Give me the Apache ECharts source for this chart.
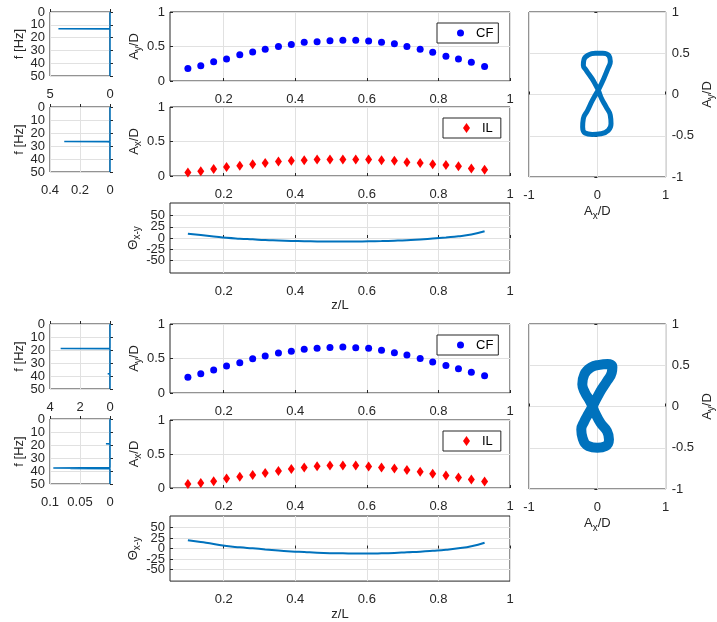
<!DOCTYPE html>
<html>
<head>
<meta charset="utf-8">
<script src="https://cdn.jsdelivr.net/npm/echarts@6/dist/echarts.min.js"></script>
<style>
  html, body { margin: 0; padding: 0; background: #fff; }
  #chart { width: 717px; height: 622px; }
</style>
</head>
<body>
<div id="chart"></div>
<script>
// Span-wise positions of the measurement stations (z/L)
const zPos = [0.100, 0.136, 0.172, 0.208, 0.245, 0.281, 0.316, 0.353, 0.389, 0.425, 0.461, 0.497,
              0.533, 0.569, 0.605, 0.641, 0.677, 0.712, 0.749, 0.784, 0.821, 0.856, 0.892, 0.929];

// Case 1: cross-flow / in-line amplitudes and phase
const cfTop = [0.18, 0.22, 0.28, 0.32, 0.38, 0.42, 0.46, 0.50, 0.53, 0.56, 0.57, 0.585,
               0.59, 0.59, 0.58, 0.56, 0.54, 0.50, 0.46, 0.415, 0.36, 0.32, 0.27, 0.21];
const ilTop = [0.05, 0.07, 0.10, 0.13, 0.15, 0.17, 0.19, 0.21, 0.22, 0.23, 0.24, 0.24,
               0.24, 0.24, 0.24, 0.23, 0.22, 0.20, 0.19, 0.17, 0.16, 0.14, 0.11, 0.09];
const thetaTop = [9.6, 6.5, 3.5, 0.5, -1.5, -3, -4.5, -5.5, -6.5, -7.2, -7.7, -8,
                  -8, -7.8, -7.4, -6.8, -6, -5, -3.5, -1.2, 1.2, 3.8, 8, 15];

// Case 2
const cfBot = [0.23, 0.28, 0.335, 0.39, 0.44, 0.495, 0.535, 0.58, 0.605, 0.635, 0.65, 0.66,
               0.665, 0.655, 0.65, 0.62, 0.585, 0.55, 0.50, 0.45, 0.40, 0.35, 0.30, 0.25];
const ilBot = [0.06, 0.075, 0.10, 0.14, 0.165, 0.19, 0.22, 0.25, 0.28, 0.30, 0.32, 0.33,
               0.33, 0.33, 0.315, 0.30, 0.285, 0.265, 0.24, 0.21, 0.185, 0.155, 0.125, 0.095];
const thetaBot = [20, 15.5, 11, 6, 3, 0.5, -2, -4.5, -7, -8.5, -10, -11,
                  -11.5, -12, -12, -11.5, -10.5, -9, -7.5, -5.5, -3, 0.5, 5.5, 14];

// Amplitude spectra (frequency in Hz, amplitude)
const specCfTopF = [0, 12.9, 13.1, 13.3, 26.3, 26.5, 26.7, 50];
const specCfTopA = [0, 0, 4.3, 0, 0, 0.14, 0, 0];
const specIlTopF = [0, 26.4, 26.6, 26.8, 26.9, 50];
const specIlTopA = [0, 0, 0.305, 0.02, 0, 0];
const specCfBotF = [0, 18.7, 18.9, 19.1, 38.0, 38.2, 38.4, 50];
const specCfBotA = [0, 0, 3.29, 0, 0, 0.15, 0, 0];
const specIlBotF = [0, 18.8, 19.0, 19.2, 37.4, 37.6, 37.8, 38.0, 38.2, 50];
const specIlBotA = [0, 0, 0.0067, 0, 0, 0.0945, 0.03, 0.066, 0, 0];

// Orbit (A_x/D, A_y/D) at the monitored station
const orbitTopX = [0.014, 0.095, 0.156, 0.19, 0.17, 0.08, -0.03, -0.13, -0.195, -0.205, -0.16, -0.08, -0.024,
                   0.014, 0.061, 0.128, 0.189, 0.2, 0.16, 0.05, -0.075, -0.18, -0.215, -0.205, -0.142, -0.071, 0.014];
const orbitTopY = [0.053, 0.195, 0.317, 0.4, 0.47, 0.5, 0.5, 0.48, 0.425, 0.355, 0.29, 0.195, 0.114,
                   0.053, -0.049, -0.15, -0.252, -0.354, -0.435, -0.476, -0.484, -0.467, -0.394, -0.293, -0.191, -0.069, 0.053];
const orbitBotX = [-0.07, 0.033, 0.142, 0.21, 0.22, 0.15, 0.03, -0.09, -0.19, -0.22, -0.18, -0.12,
                   -0.07, -0.033, 0.047, 0.142, 0.17, 0.12, 0.0, -0.13, -0.215, -0.235, -0.19, -0.128, -0.07];
const orbitBotY = [0.0, 0.167, 0.309, 0.41, 0.48, 0.515, 0.505, 0.475, 0.39, 0.27, 0.167, 0.085,
                   0.0, -0.077, -0.2, -0.3, -0.4, -0.48, -0.5, -0.48, -0.385, -0.28, -0.179, -0.085, 0.0];

// Tick values
const zTicks = [0.2, 0.4, 0.6, 0.8, 1];
const thetaTicks = [-50, -25, 0, 25, 50];
const freqTicks = [0, 10, 20, 30, 40, 50];

const INK = '#262626';
const GRIDLINE = '#e1e1e1';
const FONT = 'Liberation Sans';
const LINE_BLUE = '#0072BD';

const tickText = { color: INK, fontFamily: FONT, fontSize: 13 };
const subRich = {
  sub: { color: INK, fontFamily: FONT, fontSize: 10, lineHeight: 10, padding: [8, 0, 0, 0] }
};

// Legend markers: circle and a tall diamond
const ICON_CIRCLE = 'circle';
const ICON_DIAMOND = 'path://M5,0L10,7L5,14L0,7Z';

const grids = [], xAxes = [], yAxes = [], series = [], legends = [];

function addGrid(left, top, width, height) {
  grids.push({ left, top, width, height, show: true, borderColor: INK, borderWidth: 1,
               backgroundColor: 'transparent', containLabel: false });
  return grids.length - 1;
}

function baseAxis(gi, isX) {
  return {
    gridIndex: gi, type: 'value',
    axisLine: { show: false },
    axisTick: { show: true, inside: true, length: 3, lineStyle: { color: INK } },
    axisLabel: Object.assign({ margin: isX ? 12 : 5, showMinLabel: true, showMaxLabel: true }, tickText),
    splitLine: { show: true, lineStyle: { color: GRIDLINE, width: 1 } }
  };
}

// Tightly stacked tick labels are split across two coincident y axes
// (alternate values on each), so that none of them gets dropped.
function splitLabels(ya, values) {
  const even = values.filter((v, i) => i % 2 === 0);
  const odd = values.filter((v, i) => i % 2 === 1);
  ya.axisLabel.customValues = even;
  const twin = {
    gridIndex: ya.gridIndex, type: 'value', min: ya.min, max: ya.max, inverse: !!ya.inverse,
    position: ya.position || 'left',
    axisLine: { show: false }, axisTick: { show: false }, splitLine: { show: false },
    axisLabel: Object.assign({ margin: ya.axisLabel.margin, showMinLabel: true, showMaxLabel: true,
                               customValues: odd }, tickText)
  };
  yAxes.push(ya);
  yAxes.push(twin);
}

function nameStyle() {
  return { color: INK, fontFamily: FONT, fontSize: 13, lineHeight: 14, rich: subRich };
}

// Spectrum panel: amplitude on a reversed x axis, frequency down the y axis
function spectrumPanel(top, height, fArr, aArr, maxA, step) {
  const gi = addGrid(50, top, 60, height);
  const xa = baseAxis(gi, true);
  Object.assign(xa, { min: 0, max: maxA, interval: step, inverse: true });
  xAxes.push(xa);
  const ya = baseAxis(gi, false);
  Object.assign(ya, { min: 0, max: 50, interval: 10, inverse: true,
    name: 'f [Hz]', nameLocation: 'middle', nameGap: 24, nameTextStyle: nameStyle() });
  const yIndex = yAxes.length;
  splitLabels(ya, freqTicks);
  series.push({
    type: 'line', xAxisIndex: xAxes.length - 1, yAxisIndex: yIndex,
    data: fArr.map((f, i) => [aArr[i], f]),
    symbol: 'none', clip: false,
    lineStyle: { color: LINE_BLUE, width: 1.5 }
  });
}

function zAxis(gi, withName) {
  const xa = baseAxis(gi, true);
  Object.assign(xa, { min: 0.05, max: 1 });
  xa.axisLabel.customValues = zTicks;
  xa.axisTick.customValues = zTicks;
  if (withName) {
    Object.assign(xa, { name: 'z/L', nameLocation: 'middle', nameGap: 24, nameTextStyle: nameStyle() });
  }
  return xa;
}

function ampPanel(top, height, values, yName, seriesName, color, symbol, size, legend) {
  const gi = addGrid(170, top, 340, height);
  xAxes.push(zAxis(gi, false));
  const ya = baseAxis(gi, false);
  Object.assign(ya, { min: 0, max: 1, interval: 0.5,
    name: yName, nameLocation: 'middle', nameGap: 28, nameTextStyle: nameStyle() });
  yAxes.push(ya);
  series.push({
    name: seriesName, type: 'scatter', xAxisIndex: xAxes.length - 1, yAxisIndex: yAxes.length - 1,
    data: zPos.map((z, i) => [z, values[i]]),
    symbol, symbolSize: size,
    itemStyle: { color, opacity: 1 }
  });
  legends.push({
    data: [{ name: seriesName, icon: legend.icon }],
    left: legend.left, top: legend.top,
    orient: 'vertical',
    itemWidth: legend.w, itemHeight: legend.h,
    symbolKeepAspect: true,
    padding: legend.pad,
    borderColor: INK, borderWidth: 1, backgroundColor: '#fff', borderRadius: 0,
    itemStyle: { opacity: 1 },
    textStyle: { color: '#000', fontFamily: FONT, fontSize: 13, lineHeight: 14,
                 padding: [0, 0, 0, legend.textGap] },
    selectedMode: false
  });
}

function phasePanel(top, height, values) {
  const gi = addGrid(170, top, 340, height);
  xAxes.push(zAxis(gi, true));
  const ya = baseAxis(gi, false);
  Object.assign(ya, { min: -78, max: 78,
    name: 'Θ{sub|x-y}', nameLocation: 'middle', nameGap: 28, nameTextStyle: nameStyle() });
  ya.axisTick.customValues = thetaTicks;
  const yIndex = yAxes.length;
  splitLabels(ya, thetaTicks);
  series.push({
    type: 'line', xAxisIndex: xAxes.length - 1, yAxisIndex: yIndex,
    data: zPos.map((z, i) => [z, values[i]]),
    symbol: 'none', smooth: true,
    lineStyle: { color: LINE_BLUE, width: 2 }
  });
}

function orbitPanel(top, xs, ys, width) {
  const gi = addGrid(529, top, 141, 165);
  const xa = baseAxis(gi, true);
  Object.assign(xa, { min: -1, max: 1, interval: 1,
    name: 'A{sub|x}/D', nameLocation: 'middle', nameGap: 24, nameTextStyle: nameStyle() });
  xAxes.push(xa);
  const ya = baseAxis(gi, false);
  Object.assign(ya, { min: -1, max: 1, interval: 0.5, position: 'right',
    name: 'A{sub|y}/D', nameLocation: 'middle', nameGap: 30, nameRotate: 90, nameTextStyle: nameStyle() });
  ya.axisLabel.margin = 6;
  yAxes.push(ya);
  series.push({
    type: 'line', xAxisIndex: xAxes.length - 1, yAxisIndex: yAxes.length - 1,
    data: xs.map((x, i) => [x, ys[i]]),
    symbol: 'none', smooth: 0.5,
    lineStyle: { color: LINE_BLUE, width, join: 'round' }
  });
}

const cfLegend = (top) => ({ icon: ICON_CIRCLE, left: 437, top, w: 7, h: 7, pad: [3, 5, 3, 20], textGap: 7 });
const ilLegend = (top) => ({ icon: ICON_DIAMOND, left: 443, top, w: 7, h: 10, pad: [3, 8, 3, 20], textGap: 7 });

// Upper case
spectrumPanel(12, 64, specCfTopF, specCfTopA, 5, 5);
spectrumPanel(107, 65, specIlTopF, specIlTopA, 0.4, 0.2);
ampPanel(12, 69, cfTop, 'A{sub|y}/D', 'CF', '#0000FF', 'circle', 7, cfLegend(23));
ampPanel(107, 69, ilTop, 'A{sub|x}/D', 'IL', '#FF0000', 'diamond', [7, 10], ilLegend(118));
phasePanel(203, 70, thetaTop);
orbitPanel(12, orbitTopX, orbitTopY, 5);

// Lower case
spectrumPanel(324, 65, specCfBotF, specCfBotA, 4, 2);
spectrumPanel(419, 65, specIlBotF, specIlBotA, 0.1, 0.05);
ampPanel(324, 69, cfBot, 'A{sub|y}/D', 'CF', '#0000FF', 'circle', 7, cfLegend(335));
ampPanel(420, 68, ilBot, 'A{sub|x}/D', 'IL', '#FF0000', 'diamond', [7, 10], ilLegend(431));
phasePanel(516, 69, thetaBot);
orbitPanel(324, orbitBotX, orbitBotY, 10);

const chart = echarts.init(document.getElementById('chart'), null, { renderer: 'canvas' });
chart.setOption({
  animation: false,
  backgroundColor: '#fff',
  grid: grids,
  xAxis: xAxes,
  yAxis: yAxes,
  legend: legends,
  series
});
</script>
</body>
</html>
